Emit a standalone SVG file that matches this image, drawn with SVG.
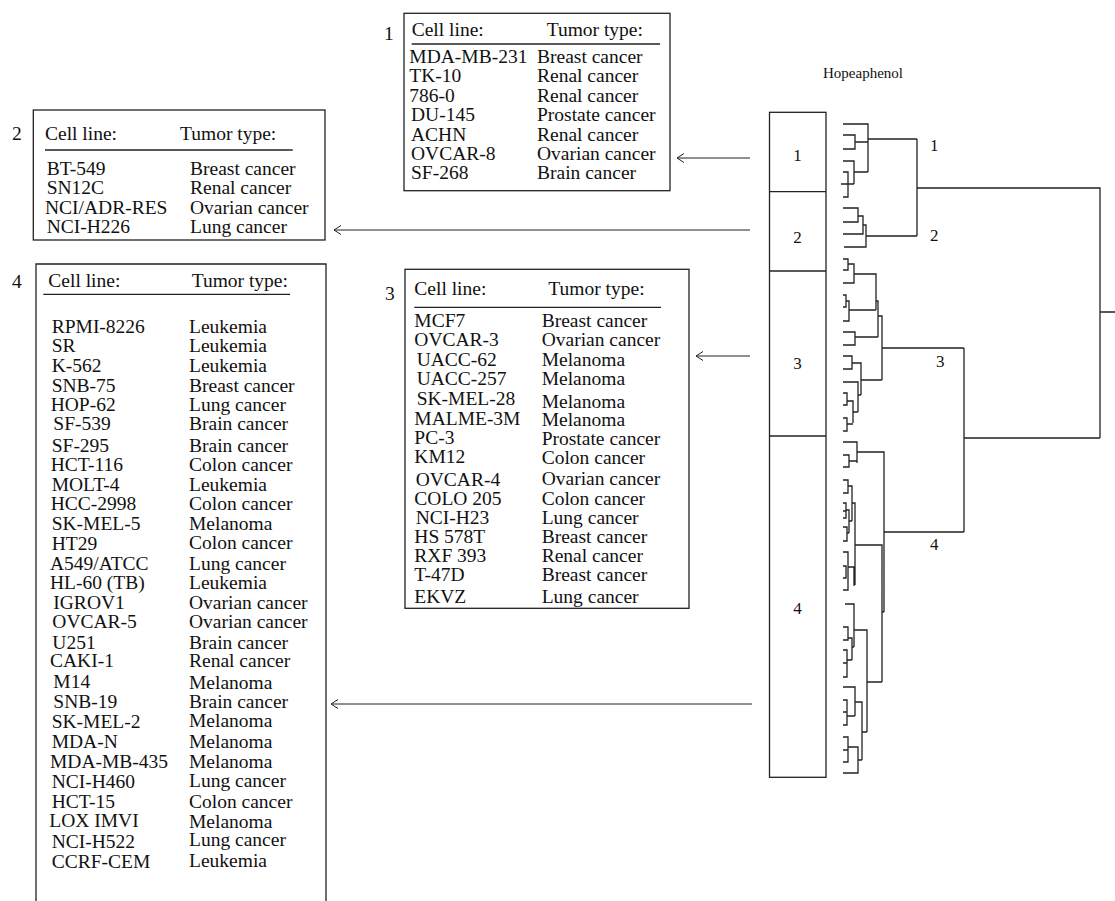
<svg xmlns="http://www.w3.org/2000/svg" width="1115" height="901" viewBox="0 0 1115 901">
<style>
text{font-family:"Liberation Serif","Times New Roman",serif;fill:#111}
.t{font-size:19.5px}
.n{font-size:17px}
.box{fill:#fff;stroke:#222;stroke-width:1.3}
.ul{stroke:#222;stroke-width:1.3}
.dg{fill:none;stroke:#222;stroke-width:1.3}
.ar{fill:none;stroke:#222;stroke-width:1}
</style>
<defs>
<marker id="ah" markerWidth="12" markerHeight="12" refX="9" refY="6" orient="auto" markerUnits="userSpaceOnUse">
<path d="M2,1.5 L9,6 L2,10.5" fill="none" stroke="#222" stroke-width="1"/>
</marker>
</defs>
<rect width="1115" height="901" fill="#fff"/>

<g id="table1">
<rect class="box" x="404" y="13.3" width="266" height="177.4"/>
<text class="t" x="384" y="40">1</text>
<text class="t" x="411.7" y="35.5">Cell line:</text>
<text class="t" x="546.7" y="35.5">Tumor type:</text>
<line class="ul" x1="411.7" y1="44" x2="660" y2="44"/>
<text class="t" x="409.3" y="63">MDA-MB-231</text><text class="t" x="537" y="63">Breast cancer</text>
<text class="t" x="409.3" y="82.4">TK-10</text><text class="t" x="537" y="82.4">Renal cancer</text>
<text class="t" x="409.3" y="101.8">786-0</text><text class="t" x="537" y="101.8">Renal cancer</text>
<text class="t" x="411" y="121.2">DU-145</text><text class="t" x="537" y="121.2">Prostate cancer</text>
<text class="t" x="411" y="140.6">ACHN</text><text class="t" x="537" y="140.6">Renal cancer</text>
<text class="t" x="411" y="160">OVCAR-8</text><text class="t" x="537" y="160">Ovarian cancer</text>
<text class="t" x="411" y="179.4">SF-268</text><text class="t" x="537" y="179.4">Brain cancer</text>
</g>

<g id="table2">
<rect class="box" x="33.3" y="110" width="291.7" height="130"/>
<text class="t" x="12" y="140">2</text>
<text class="t" x="45" y="140">Cell line:</text>
<text class="t" x="180" y="140">Tumor type:</text>
<line class="ul" x1="45" y1="150" x2="292.7" y2="150"/>
<text class="t" x="46.7" y="175">BT-549</text><text class="t" x="190" y="175">Breast cancer</text>
<text class="t" x="46.7" y="194.4">SN12C</text><text class="t" x="190" y="194.4">Renal cancer</text>
<text class="t" x="45" y="213.8">NCI/ADR-RES</text><text class="t" x="190" y="213.8">Ovarian cancer</text>
<text class="t" x="46.7" y="233.2">NCI-H226</text><text class="t" x="190" y="233.2">Lung cancer</text>
</g>

<g id="table3">
<rect class="box" x="405" y="269.3" width="284" height="339"/>
<text class="t" x="385" y="300">3</text>
<text class="t" x="414.3" y="295">Cell line:</text>
<text class="t" x="548.3" y="295">Tumor type:</text>
<line class="ul" x1="414.3" y1="307.3" x2="661" y2="307.3"/>
<text class="t" x="414.3" y="326.5">MCF7</text><text class="t" x="541.7" y="326.5">Breast cancer</text>
<text class="t" x="414.3" y="345.8">OVCAR-3</text><text class="t" x="541.7" y="345.8">Ovarian cancer</text>
<text class="t" x="416.7" y="365.8">UACC-62</text><text class="t" x="541.7" y="365.8">Melanoma</text>
<text class="t" x="416.7" y="384.8">UACC-257</text><text class="t" x="541.7" y="384.8">Melanoma</text>
<text class="t" x="416.7" y="404.8">SK-MEL-28</text><text class="t" x="541.7" y="407.5">Melanoma</text>
<text class="t" x="414.3" y="424.8">MALME-3M</text><text class="t" x="541.7" y="426">Melanoma</text>
<text class="t" x="414.3" y="444.2">PC-3</text><text class="t" x="541.7" y="444.8">Prostate cancer</text>
<text class="t" x="414.3" y="463.2">KM12</text><text class="t" x="541.7" y="463.8">Colon cancer</text>
<text class="t" x="415.7" y="485.8">OVCAR-4</text><text class="t" x="541.7" y="484.8">Ovarian cancer</text>
<text class="t" x="414.3" y="504.8">COLO 205</text><text class="t" x="541.7" y="504.8">Colon cancer</text>
<text class="t" x="415.7" y="524.2">NCI-H23</text><text class="t" x="541.7" y="524.2">Lung cancer</text>
<text class="t" x="414.3" y="542.5">HS 578T</text><text class="t" x="541.7" y="542.5">Breast cancer</text>
<text class="t" x="414.3" y="561.5">RXF 393</text><text class="t" x="541.7" y="562">Renal cancer</text>
<text class="t" x="414.3" y="580.5">T-47D</text><text class="t" x="541.7" y="580.5">Breast cancer</text>
<text class="t" x="414.3" y="603.2">EKVZ</text><text class="t" x="541.7" y="603.2">Lung cancer</text>
</g>

<g id="table4">
<path class="box" d="M36,901 V264 H326 V901"/>
<text class="t" x="12" y="288">4</text>
<text class="t" x="48.3" y="286.5">Cell line:</text>
<text class="t" x="191.7" y="286.5">Tumor type:</text>
<line class="ul" x1="43.3" y1="294.3" x2="290" y2="294.3"/>
<text class="t" x="51.7" y="333.2">RPMI-8226</text><text class="t" x="189" y="333.2">Leukemia</text>
<text class="t" x="51.7" y="352.2">SR</text><text class="t" x="189" y="352.2">Leukemia</text>
<text class="t" x="51.7" y="371.5">K-562</text><text class="t" x="189" y="371.5">Leukemia</text>
<text class="t" x="51.7" y="391.5">SNB-75</text><text class="t" x="189" y="391.5">Breast cancer</text>
<text class="t" x="50.7" y="410.8">HOP-62</text><text class="t" x="189" y="410.8">Lung cancer</text>
<text class="t" x="53.3" y="429.8">SF-539</text><text class="t" x="189" y="429.8">Brain cancer</text>
<text class="t" x="51.7" y="451.5">SF-295</text><text class="t" x="189" y="451.5">Brain cancer</text>
<text class="t" x="50.7" y="470.8">HCT-116</text><text class="t" x="189" y="470.8">Colon cancer</text>
<text class="t" x="51.7" y="490.8">MOLT-4</text><text class="t" x="189" y="490.8">Leukemia</text>
<text class="t" x="50.7" y="509.8">HCC-2998</text><text class="t" x="189" y="509.8">Colon cancer</text>
<text class="t" x="51.7" y="529.8">SK-MEL-5</text><text class="t" x="189" y="529.8">Melanoma</text>
<text class="t" x="51.7" y="549.8">HT29</text><text class="t" x="189" y="548.8">Colon cancer</text>
<text class="t" x="50" y="569.8">A549/ATCC</text><text class="t" x="189" y="569.8">Lung cancer</text>
<text class="t" x="50" y="589.2">HL-60 (TB)</text><text class="t" x="189" y="589.2">Leukemia</text>
<text class="t" x="53.3" y="608.8">IGROV1</text><text class="t" x="189" y="608.8">Ovarian cancer</text>
<text class="t" x="52.3" y="628.2">OVCAR-5</text><text class="t" x="189" y="628.2">Ovarian cancer</text>
<text class="t" x="52.3" y="649.2">U251</text><text class="t" x="189" y="649.2">Brain cancer</text>
<text class="t" x="50" y="667.2">CAKI-1</text><text class="t" x="189" y="667.2">Renal cancer</text>
<text class="t" x="53.3" y="688.2">M14</text><text class="t" x="189" y="688.8">Melanoma</text>
<text class="t" x="53.3" y="707.5">SNB-19</text><text class="t" x="189" y="708.2">Brain cancer</text>
<text class="t" x="51.7" y="727.5">SK-MEL-2</text><text class="t" x="189" y="726.5">Melanoma</text>
<text class="t" x="51.7" y="747.5">MDA-N</text><text class="t" x="189" y="747.5">Melanoma</text>
<text class="t" x="50" y="767.5">MDA-MB-435</text><text class="t" x="189" y="767.5">Melanoma</text>
<text class="t" x="51.7" y="787.5">NCI-H460</text><text class="t" x="189" y="786.5">Lung cancer</text>
<text class="t" x="51.7" y="807.5">HCT-15</text><text class="t" x="189" y="807.5">Colon cancer</text>
<text class="t" x="49.3" y="826.5">LOX IMVI</text><text class="t" x="189" y="827.5">Melanoma</text>
<text class="t" x="51.7" y="848.2">NCI-H522</text><text class="t" x="189" y="845.5">Lung cancer</text>
<text class="t" x="51.7" y="868.2">CCRF-CEM</text><text class="t" x="189" y="866.5">Leukemia</text>
</g>

<g id="clusterbar">
<text x="863" y="78" font-size="15" text-anchor="middle">Hopeaphenol</text>
<rect class="box" x="769.5" y="112.3" width="56.5" height="665"/>
<line class="ul" x1="769.5" y1="191.7" x2="826" y2="191.7"/>
<line class="ul" x1="769.5" y1="271" x2="826" y2="271"/>
<line class="ul" x1="769.5" y1="436" x2="826" y2="436"/>
<text class="n" x="797.5" y="161" text-anchor="middle">1</text>
<text class="n" x="797.5" y="243" text-anchor="middle">2</text>
<text class="n" x="797.5" y="369" text-anchor="middle">3</text>
<text class="n" x="797.5" y="614" text-anchor="middle">4</text>
</g>

<g id="dendrogram">
<path class="dg" d="M843,124 H868 V172 M843,135 H855 V149 H843 M855,142 H868 M843,161 H854 V184 M843,172 H848 V197 H843 M841,184 H854 M854,172 H868 M868,139 H917"/>
<path class="dg" d="M843,208 H858 V222 H843 M858,216 H863 V234 H843 M863,225 H866 V247 H844 M866,236 H917"/>
<path class="dg" d="M917,139 V236 M917,188 H1100 V438 M1100,312 H1115"/>
<path class="dg" d="M843,259 H848 V270 H843 M848,264 H854 V283 H843 M854,274 H876 V310 M843,295 H846 V307 H843 M846,301 H849 V321 H843 M849,310 H876 M876,301 H878 V337 M843,332 H855 V345 H843 M855,337 H878 M878,316 H882 V380 M882,348 H964 M843,356 H852 V369 H843 M852,363 H861 V395 M843,382 H858 V412 M843,393 H847 V405 H843 M847,401 H853 V423 M843,418 H847 V431 H843 M847,424 H853 M853,412 H858 M858,395 H861 M861,380 H882"/>
<path class="dg" d="M843,442 H857 V463 M843,455 H849 V467 H843 M849,461 H857 M857,452 H884 V612 M884,532 H964 M964,348 V532 M964,438 H1100"/>
<path class="dg" d="M843,480 H848 V493 H843 M848,486 H852 V521 M843,503 H846 V518 H843 M843,511 H846 M846,510 H849 V533 M843,527 H847 V541 H843 M847,533 H849 M849,521 H852 M852,503 H855 V585 M843,552 H848 V590 H843 M843,566 H846 V578 H843 M848,567 H854 V585 H855 M855,545 H882 V682 M882,612 H884"/>
<path class="dg" d="M845,604 H854 V647 M854,630 H867 V732 M843,627 H848 V640 H843 M848,638 H852 V660 M852,647 H854 M843,650 H847 V677 H843 M843,663 H847 M847,660 H852 M867,682 H882 M843,687 H855 V716 M843,700 H847 V725 H843 M843,712 H847 M847,716 H855 M855,702 H862 V760 M862,732 H867 M843,737 H848 V762 H843 M843,750 H848 M848,747 H858 V773 H843 M858,760 H862"/>
<text class="n" x="930" y="151">1</text>
<text class="n" x="930" y="241">2</text>
<text class="n" x="936" y="367">3</text>
<text class="n" x="930" y="550">4</text>
</g>

<g id="connectors">
<line class="ar" x1="750" y1="158" x2="677" y2="158" marker-end="url(#ah)"/>
<line class="ar" x1="750" y1="230" x2="334" y2="230" marker-end="url(#ah)"/>
<line class="ar" x1="750" y1="356" x2="696" y2="356" marker-end="url(#ah)"/>
<line class="ar" x1="752" y1="704" x2="331" y2="704" marker-end="url(#ah)"/>
</g>
</svg>
